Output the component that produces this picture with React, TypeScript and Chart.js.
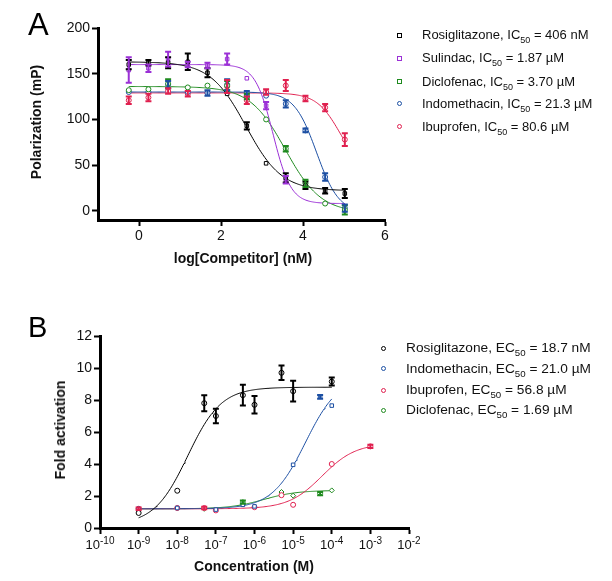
import React, { useEffect, useRef } from 'react';
import { Chart, registerables } from 'chart.js';

Chart.register(...registerables);

const FONT = '"Liberation Sans", Arial, sans-serif';

// ---------- Panel A data (x = log[Competitor] in nM) ----------
const xTicksA = [0, 2, 4, 6];
const yTicksA = [0, 50, 100, 150, 200];
const logConcA = [-0.25, 0.23, 0.71, 1.19, 1.67, 2.15, 2.63, 3.1, 3.58, 4.06, 4.54, 5.02];
const rosiA = [160, 162, 162, 163, 151, 128, 93, 52, 36, 28, 22, 19];
const rosiAErr = [5, 3, 6, 9, 5, 0, 4, 0, 5, 4, 3, 5];
const sulA = [154, 156, 166, 160, 159, 166, 145, 115, 34];
const sulAErr = [14, 4, 8, 3, 3, 6, 0, 4, 4];
const dicA = [132, 133, 139, 135, 137, 137, 125, 100, 68, 30, 8, 1];
const dicAErr = [0, 0, 5, 0, 0, 5, 3, 0, 3, 4, 0, 5];
const indoA = [130, 130, 138, 130, 129, 138, 128, 126, 117, 88, 37, 3];
const indoAErr = [0, 0, 4, 0, 3, 6, 3, 0, 4, 2, 4, 4];
const ibuA = [121, 124, 131, 128, 129, 136, 121, 130, 137, 123, 113, 78];
const ibuAErr = [4, 4, 3, 3, 0, 7, 4, 3, 6, 3, 4, 7];
// fit parameters: [top, bottom, logIC50, hill]
const rosiAFit = [163, 22, 2.61, 1.0];
const sulAFit = [160, 8, 3.27, 2.0];
const dicAFit = [136, -2, 3.57, 1.0];
const indoAFit = [130, -2, 4.33, 1.6];
const ibuAFit = [129, 40, 4.91, 1.5];
const fitRangeA = [-0.25, 5.02];
const legendA = [
  { name: 'Rosiglitazone, IC', value: ' = 406 nM', shape: 'rect' },
  { name: 'Sulindac, IC', value: ' = 1.87 \u00b5M', shape: 'rect' },
  { name: 'Diclofenac, IC', value: ' = 3.70 \u00b5M', shape: 'rect' },
  { name: 'Indomethacin, IC', value: ' = 21.3 \u00b5M', shape: 'circle' },
  { name: 'Ibuprofen, IC', value: ' = 80.6 \u00b5M', shape: 'circle' },
];

// ---------- Panel B data (x = concentration in M) ----------
const xTicksBExp = [-10, -9, -8, -7, -6, -5, -4, -3, -2];
const yTicksB = [0, 2, 4, 6, 8, 10, 12];
const rosiBConc = [1e-9, 1e-8, 5e-8, 1e-7, 5e-7, 1e-6, 5e-6, 1e-5, 1e-4];
const rosiB = [0.94, 2.33, 7.8, 7.0, 8.3, 7.7, 9.7, 8.55, 9.15];
const rosiBErr = [0, 0, 0.5, 0.45, 0.65, 0.55, 0.45, 0.65, 0.25];
const indoBConc = [1e-9, 1e-8, 1e-7, 5e-7, 1e-6, 1e-5, 5e-5, 1e-4];
const indoB = [1.2, 1.25, 1.15, 1.45, 1.35, 3.95, 8.2, 7.65];
const indoBErr = [0, 0, 0, 0, 0, 0, 0.12, 0];
const ibuBConc = [1e-9, 1e-8, 5e-8, 1e-7, 1e-6, 5e-6, 1e-5, 1e-4, 1e-3];
const ibuB = [1.2, 1.25, 1.25, 1.1, 1.3, 2.05, 1.45, 4.0, 5.1];
const ibuBErr = [0.08, 0, 0.08, 0, 0, 0, 0, 0, 0.1];
const dicBConc = [1e-9, 1e-8, 5e-8, 5e-7, 5e-6, 1e-5, 5e-5, 1e-4];
const dicB = [1.2, 1.25, 1.2, 1.62, 2.25, 2.02, 2.15, 2.35];
const dicBErr = [0, 0, 0, 0.1, 0, 0, 0.1, 0];
// fit parameters: [top, bottom, logEC50, hill]
const rosiBFit = [8.8, 0.2, -7.73, 1.0];
const indoBFit = [9.5, 1.2, -4.68, 1.0];
const ibuBFit = [5.3, 1.2, -4.25, 1.0];
const dicBFit = [2.35, 1.2, -5.77, 1.0];
const rosiBRange = [-9, -4];
const indoBRange = [-9, -4];
const ibuBRange = [-9, -3];
const dicBRange = [-9, -4];
const legendB = [
  { name: 'Rosiglitazone, EC', value: ' = 18.7 nM' },
  { name: 'Indomethacin, EC', value: ' = 21.0 \u00b5M' },
  { name: 'Ibuprofen, EC', value: ' = 56.8 \u00b5M' },
  { name: 'Diclofenac, EC', value: ' = 1.69 \u00b5M' },
];

const BLACK = '#000000';
const PURPLE = '#9b30d6';
const GREEN = '#1e8a1e';
const BLUE = '#1c4fa3';
const RED = '#e0204f';
const colorsA = [BLACK, PURPLE, GREEN, BLUE, RED];
const colorsB = [BLACK, BLUE, RED, GREEN];

function decreasing(x: number, p: number[]) {
  const [top, bottom, mid, hill] = p;
  return bottom + (top - bottom) / (1 + Math.pow(10, hill * (x - mid)));
}
function increasing(x: number, p: number[]) {
  const [top, bottom, mid, hill] = p;
  return bottom + (top - bottom) / (1 + Math.pow(10, hill * (mid - x)));
}
function sampleRange(lo: number, hi: number, n = 200) {
  const out: number[] = [];
  for (let i = 0; i <= n; i++) out.push(lo + ((hi - lo) * i) / n);
  return out;
}

function pointSet(xs: number[], ys: number[], errs: number[], color: string, style: string) {
  return {
    data: ys.map((y, i) => ({ x: xs[i], y })),
    errs,
    borderColor: color,
    backgroundColor: '#ffffff',
    pointStyle: style,
    pointRadius: 2.5,
    pointBorderWidth: 1,
    showLine: false,
    order: 0,
  };
}
function curveSet(pts: { x: number; y: number }[], color: string) {
  return {
    data: pts,
    borderColor: color,
    borderWidth: 1,
    pointRadius: 0,
    showLine: true,
    fill: false,
    order: 1,
  };
}

const errorBarPlugin = {
  id: 'errorBars',
  afterDatasetsDraw(chart: any) {
    const ctx = chart.ctx;
    const xs = chart.scales.x;
    const ys = chart.scales.y;
    ctx.save();
    chart.data.datasets.forEach((ds: any) => {
      if (!ds.errs) return;
      ctx.strokeStyle = ds.borderColor;
      ctx.lineWidth = 2;
      ds.data.forEach((p: any, i: number) => {
        const e = ds.errs[i];
        if (!e) return;
        const x = xs.getPixelForValue(p.x);
        const y1 = ys.getPixelForValue(p.y - e);
        const y2 = ys.getPixelForValue(p.y + e);
        ctx.beginPath();
        ctx.moveTo(x, y1);
        ctx.lineTo(x, y2);
        ctx.moveTo(x - 3, y1);
        ctx.lineTo(x + 3, y1);
        ctx.moveTo(x - 3, y2);
        ctx.lineTo(x + 3, y2);
        ctx.stroke();
      });
    });
    ctx.restore();
  },
};

const powerLabelPlugin = {
  id: 'powerLabels',
  afterDraw(chart: any) {
    const s = chart.scales.x;
    const ctx = chart.ctx;
    ctx.save();
    ctx.fillStyle = '#111';
    ctx.textBaseline = 'alphabetic';
    ctx.textAlign = 'left';
    const yBase = s.top + 21;
    xTicksBExp.forEach((e) => {
      const px = s.getPixelForValue(Math.pow(10, e));
      ctx.font = `13px ${FONT}`;
      const w1 = ctx.measureText('10').width;
      ctx.font = `10px ${FONT}`;
      const w2 = ctx.measureText(String(e)).width;
      const left = px - (w1 + w2) / 2;
      ctx.font = `13px ${FONT}`;
      ctx.fillText('10', left, yBase);
      ctx.font = `10px ${FONT}`;
      ctx.fillText(String(e), left + w1, yBase - 5);
    });
    ctx.restore();
  },
};

const axisCommon = {
  grid: { drawOnChartArea: false, drawTicks: true, tickLength: 6, tickWidth: 2, tickColor: '#000' },
  border: { display: true, color: '#000', width: 3 },
};
const tickFont = { family: FONT, size: 14 };

function ChartA() {
  const ref = useRef<HTMLCanvasElement>(null);
  useEffect(() => {
    if (!ref.current) return;
    const xsFit = sampleRange(fitRangeA[0], fitRangeA[1]);
    const series = [
      [rosiA, rosiAErr, rosiAFit, 'rect'],
      [sulA, sulAErr, sulAFit, 'rect'],
      [dicA, dicAErr, dicAFit, 'circle'],
      [indoA, indoAErr, indoAFit, 'circle'],
      [ibuA, ibuAErr, ibuAFit, 'circle'],
    ] as any[];
    const datasets: any[] = [];
    series.forEach((s, i) => {
      datasets.push(pointSet(logConcA, s[0], s[1], colorsA[i], s[3]));
    });
    series.forEach((s, i) => {
      datasets.push(curveSet(xsFit.map((x) => ({ x, y: decreasing(x, s[2]) })), colorsA[i]));
    });
    const chart = new Chart(ref.current, {
      type: 'scatter',
      data: { datasets },
      options: {
        animation: false,
        responsive: false,
        devicePixelRatio: 1,
        layout: { padding: { left: 0, top: 28, right: 15, bottom: 10 } },
        plugins: { legend: { display: false }, tooltip: { enabled: false } },
        scales: {
          x: {
            type: 'linear',
            min: -1,
            max: 6,
            ...axisCommon,
            afterBuildTicks: (s: any) => {
              s.ticks = xTicksA.map((v) => ({ value: v }));
            },
            afterFit: (s: any) => {
              s.height = 30;
            },
            ticks: { color: '#111', font: tickFont, padding: 2, maxRotation: 0, autoSkip: false },
          },
          y: {
            type: 'linear',
            min: -10,
            max: 200,
            ...axisCommon,
            afterBuildTicks: (s: any) => {
              s.ticks = yTicksA.map((v) => ({ value: v }));
            },
            afterFit: (s: any) => {
              s.width = 98;
            },
            ticks: { color: '#111', font: tickFont, padding: 2, autoSkip: false },
          },
        },
      } as any,
      plugins: [errorBarPlugin],
    });
    return () => chart.destroy();
  }, []);
  return (
    <canvas
      ref={ref}
      width={400}
      height={260}
      style={{ position: 'absolute', left: 0, top: 0, width: 400, height: 260 }}
    />
  );
}

function ChartB() {
  const ref = useRef<HTMLCanvasElement>(null);
  useEffect(() => {
    if (!ref.current) return;
    const series = [
      [rosiBConc, rosiB, rosiBErr, rosiBFit, rosiBRange, 'circle'],
      [indoBConc, indoB, indoBErr, indoBFit, indoBRange, 'rect'],
      [ibuBConc, ibuB, ibuBErr, ibuBFit, ibuBRange, 'circle'],
      [dicBConc, dicB, dicBErr, dicBFit, dicBRange, 'rectRot'],
    ] as any[];
    const datasets: any[] = [];
    series.forEach((s, i) => {
      datasets.push(pointSet(s[0], s[1], s[2], colorsB[i], s[5]));
    });
    series.forEach((s, i) => {
      const ts = sampleRange(s[4][0], s[4][1]);
      datasets.push(curveSet(ts.map((t) => ({ x: Math.pow(10, t), y: increasing(t, s[3]) })), colorsB[i]));
    });
    const chart = new Chart(ref.current, {
      type: 'scatter',
      data: { datasets },
      options: {
        animation: false,
        responsive: false,
        devicePixelRatio: 1,
        layout: { padding: { left: 0, top: 36, right: 11, bottom: 23 } },
        plugins: { legend: { display: false }, tooltip: { enabled: false } },
        scales: {
          x: {
            type: 'logarithmic',
            min: 1e-10,
            max: 1e-2,
            ...axisCommon,
            afterBuildTicks: (s: any) => {
              s.ticks = xTicksBExp.map((e) => ({ value: Math.pow(10, e) }));
            },
            afterFit: (s: any) => {
              s.height = 30;
            },
            ticks: { display: false, autoSkip: false },
          },
          y: {
            type: 'linear',
            min: 0,
            max: 12,
            ...axisCommon,
            afterBuildTicks: (s: any) => {
              s.ticks = yTicksB.map((v) => ({ value: v }));
            },
            afterFit: (s: any) => {
              s.width = 100;
            },
            ticks: { color: '#111', font: tickFont, padding: 2, autoSkip: false },
          },
        },
      } as any,
      plugins: [errorBarPlugin, powerLabelPlugin],
    });
    return () => chart.destroy();
  }, []);
  return (
    <canvas
      ref={ref}
      width={420}
      height={281}
      style={{ position: 'absolute', left: 0, top: 300, width: 420, height: 281 }}
    />
  );
}

function LegendRow(props: { x: number; tx: number; cy: number; color: string; shape: string; name: string; value: string; size: number }) {
  const { x, tx, cy, color, shape, name, value, size } = props;
  return (
    <>
      <div
        style={{
          position: 'absolute',
          left: x - 2.5,
          top: cy - 2.5,
          width: 3,
          height: 3,
          border: `1px solid ${color}`,
          borderRadius: shape === 'circle' ? '50%' : 0,
          background: '#fff',
        }}
      />
      <div
        style={{
          position: 'absolute',
          left: tx,
          top: cy - 8,
          height: 16,
          lineHeight: '16px',
          fontFamily: FONT,
          fontSize: size,
          color: '#111',
          whiteSpace: 'nowrap',
        }}
      >
        {name}
        <span style={{ fontSize: size - 4, position: 'relative', top: 4 }}>50</span>
        {value}
      </div>
    </>
  );
}

const legendATop = [35, 58, 81.5, 103.5, 126.5];
const legendBTop = [348, 368.5, 390, 410];

export default function App() {
  return (
    <div style={{ position: 'fixed', left: 0, top: 0, width: 612, height: 581, background: '#fff', overflow: 'hidden' }}>
      <ChartA />
      <ChartB />
      <div style={{ position: 'absolute', left: 28, top: 9, fontFamily: FONT, fontSize: 31, lineHeight: '31px' }}>A</div>
      <div style={{ position: 'absolute', left: 28, top: 313, fontFamily: FONT, fontSize: 29, lineHeight: '29px' }}>B</div>
      <div
        style={{
          position: 'absolute', left: 36, top: 122, transform: 'translate(-50%,-50%) rotate(-90deg)',
          fontFamily: FONT, fontSize: 14, fontWeight: 'bold', whiteSpace: 'nowrap', color: '#111',
        }}
      >
        Polarization (mP)
      </div>
      <div
        style={{
          position: 'absolute', left: 243, top: 258, transform: 'translate(-50%,-50%)',
          fontFamily: FONT, fontSize: 14, fontWeight: 'bold', whiteSpace: 'nowrap', color: '#111',
        }}
      >
        log[Competitor] (nM)
      </div>
      <div
        style={{
          position: 'absolute', left: 60, top: 430, transform: 'translate(-50%,-50%) rotate(-90deg)',
          fontFamily: FONT, fontSize: 14, fontWeight: 'bold', whiteSpace: 'nowrap', color: '#111',
        }}
      >
        Fold activation
      </div>
      <div
        style={{
          position: 'absolute', left: 254, top: 566, transform: 'translate(-50%,-50%)',
          fontFamily: FONT, fontSize: 14, fontWeight: 'bold', whiteSpace: 'nowrap', color: '#111',
        }}
      >
        Concentration (M)
      </div>
      {legendA.map((l, i) => (
        <LegendRow key={'a' + i} x={399} tx={422} cy={legendATop[i]} color={colorsA[i]} shape={l.shape} name={l.name} value={l.value} size={13} />
      ))}
      {legendB.map((l, i) => (
        <LegendRow key={'b' + i} x={383} tx={406} cy={legendBTop[i]} color={colorsB[i]} shape="circle" name={l.name} value={l.value} size={13.7} />
      ))}
    </div>
  );
}
